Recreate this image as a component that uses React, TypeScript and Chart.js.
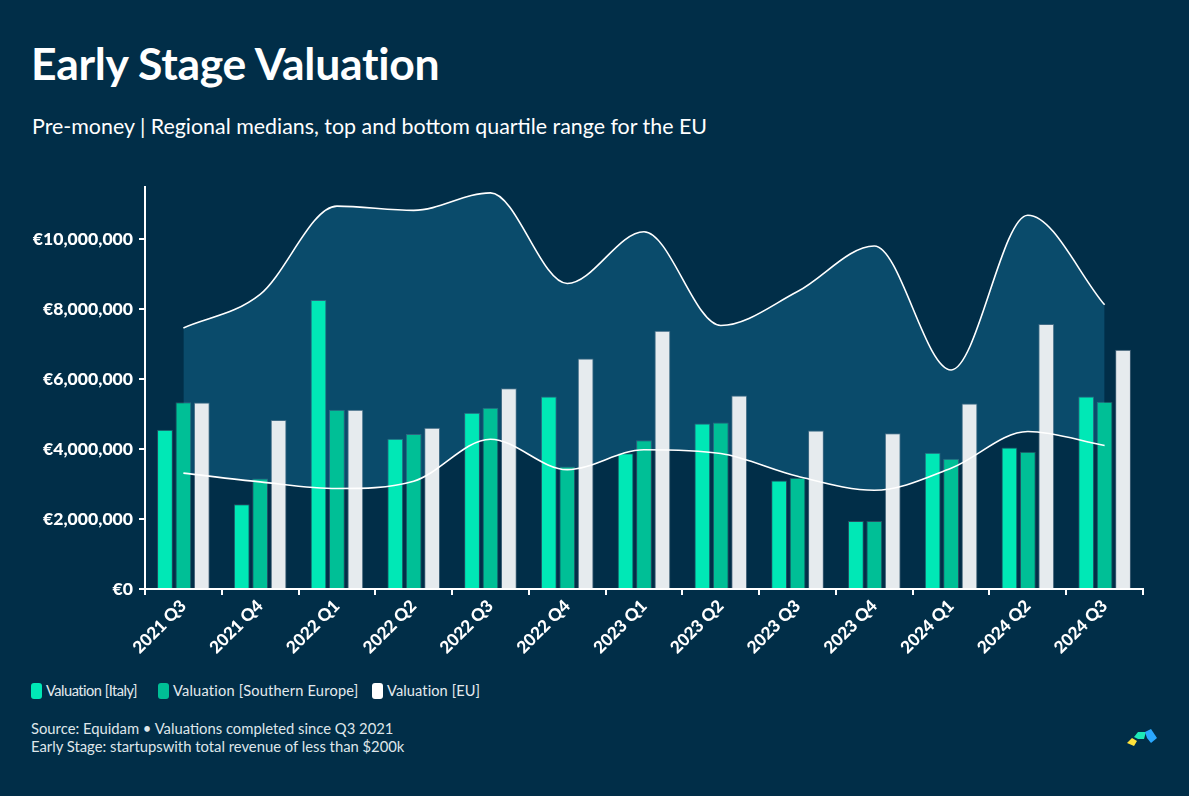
import React, { useEffect, useRef } from "react";
import { Chart, registerables } from "chart.js";

Chart.register(...registerables);

const categories = [
  "2021 Q3", "2021 Q4", "2022 Q1", "2022 Q2", "2022 Q3", "2022 Q4",
  "2023 Q1", "2023 Q2", "2023 Q3", "2023 Q4", "2024 Q1", "2024 Q2", "2024 Q3",
];
const italy = [4550000, 2420000, 8260000, 4290000, 5040000, 5500000, 3880000, 4730000, 3100000, 1940000, 3890000, 4040000, 5500000];
const southernEurope = [5340000, 3160000, 5120000, 4430000, 5180000, 3500000, 4250000, 4760000, 3180000, 1940000, 3720000, 3920000, 5350000];
const eu = [5330000, 4830000, 5120000, 4610000, 5740000, 6590000, 7380000, 5530000, 4530000, 4450000, 5300000, 7570000, 6840000];
const euTopQuartile = [7460000, 8420000, 10940000, 10820000, 11320000, 8730000, 10210000, 7530000, 8500000, 9800000, 6260000, 10680000, 8120000];
const euBottomQuartile = [3310000, 3060000, 2870000, 3080000, 4280000, 3410000, 3980000, 3870000, 3220000, 2820000, 3450000, 4500000, 4100000];
const yTickValues = [0, 2000000, 4000000, 6000000, 8000000, 10000000];
const legendLabels = ["Valuation [Italy]", "Valuation [Southern Europe]", "Valuation [EU]"];

const BG = "#012e48";
const FILL = "#0a4b6b";
const ITALY = "#00e8b6";
const SE = "#00bf96";
const EUC = "#e6ebee";
const FONT = "Lato, 'Open Sans', sans-serif";

export default function App() {
  const canvasRef = useRef<HTMLCanvasElement | null>(null);

  useEffect(() => {
    document.body.style.margin = "0";
    document.body.style.background = BG;
    const ctx = canvasRef.current!;
    let alive = true;
    const chart = new Chart(ctx, {
      type: "bar",
      data: {
        labels: categories,
        datasets: [
          {
            type: "line",
            label: "EU top quartile",
            data: euTopQuartile,
            borderColor: "#ffffff",
            borderWidth: 1.6,
            backgroundColor: FILL,
            fill: "+1",
            pointRadius: 0,
            cubicInterpolationMode: "monotone",
            order: 1,
          },
          {
            type: "line",
            label: "EU bottom quartile",
            data: euBottomQuartile,
            borderColor: "#ffffff",
            borderWidth: 1.6,
            fill: false,
            pointRadius: 0,
            cubicInterpolationMode: "monotone",
            order: 1,
          },
          {
            label: legendLabels[0],
            data: italy,
            backgroundColor: ITALY,
            borderColor: "rgba(255,255,255,0.15)",
            borderWidth: 1,
            barPercentage: 0.86,
            categoryPercentage: 0.72,
            order: 2,
          },
          {
            label: legendLabels[1],
            data: southernEurope,
            backgroundColor: SE,
            borderColor: "rgba(255,255,255,0.15)",
            borderWidth: 1,
            barPercentage: 0.86,
            categoryPercentage: 0.72,
            order: 2,
          },
          {
            label: legendLabels[2],
            data: eu,
            backgroundColor: EUC,
            borderColor: "rgba(120,140,160,0.5)",
            borderWidth: 1,
            barPercentage: 0.86,
            categoryPercentage: 0.72,
            order: 2,
          },
        ],
      } as any,
      options: {
        responsive: false,
        animation: false,
        layout: { padding: { top: 14, right: 46, left: 0, bottom: 0 } },
        plugins: {
          legend: { display: false },
          tooltip: { enabled: false },
          filler: { drawTime: "beforeDatasetsDraw" },
        } as any,
        scales: {
          x: {
            grid: { display: true, drawOnChartArea: false, color: "#ffffff", tickLength: 6, lineWidth: 2 },
            border: { display: true, color: "#ffffff", width: 2 },
            ticks: {
              color: "#ffffff",
              font: { family: FONT, size: 17, weight: "900" },
              minRotation: 45,
              maxRotation: 45,
              padding: 1,
              autoSkip: false,
            },
            afterFit: (s: any) => { s.height = 81; },
          },
          y: {
            min: 0,
            max: 11500000,
            grid: { display: true, drawOnChartArea: false, color: "#ffffff", tickLength: 6, lineWidth: 2 },
            border: { display: true, color: "#ffffff", width: 2 },
            afterBuildTicks: (s: any) => { s.ticks = yTickValues.map((v) => ({ value: v })); },
            ticks: {
              color: "#ffffff",
              font: { family: FONT, size: 17.6, weight: "900" },
              padding: 6,
              callback: (v: any) => "€" + Number(v).toLocaleString("en-US"),
            },
            afterFit: (s: any) => { s.width = 145; },
          },
        },
      } as any,
    });
    const fonts = (document as any).fonts;
    if (fonts && fonts.load) {
      Promise.all([fonts.load("900 17px Lato"), fonts.load("bold 17px Lato")]).then(() => {
        if (alive) chart.update();
      }).catch(() => {});
    }
    return () => { alive = false; chart.destroy(); };
  }, []);

  const legendColors = [ITALY, SE, "#ffffff"];
  const legendLefts = [31, 158, 372];
  const legendSpacing = [-0.5, 0.2, 0.1];

  return (
    <div style={{ position: "relative", width: 1189, height: 796, background: BG, overflow: "hidden", fontFamily: FONT }}>
      <div style={{ position: "absolute", left: 31, top: 36, fontSize: 44.5, fontWeight: 700, color: "#ffffff", lineHeight: "54px", letterSpacing: -0.3, whiteSpace: "nowrap" }}>
        Early Stage Valuation
      </div>
      <div style={{ position: "absolute", left: 32, top: 112, fontSize: 21.4, color: "#ffffff", lineHeight: "28px", whiteSpace: "nowrap" }}>
        Pre-money | Regional medians, top and bottom quartile range for the EU
      </div>
      <div style={{ position: "absolute", left: 0, top: 170, width: 1189, height: 500 }}>
        <canvas ref={canvasRef} width={1189} height={500} style={{ display: "block" }} />
      </div>
      {legendLabels.map((l, i) => (
        <div key={l} style={{ position: "absolute", left: legendLefts[i], top: 682, display: "flex", alignItems: "center", fontSize: 14.6, color: "#e4eaee", whiteSpace: "nowrap", letterSpacing: legendSpacing[i] }}>
          <span style={{ display: "inline-block", width: 11, height: 16, borderRadius: 3, background: legendColors[i], marginRight: 4 }} />
          <span style={{ lineHeight: "18px" }}>{l}</span>
        </div>
      ))}
      <div style={{ position: "absolute", left: 31, top: 719, fontSize: 14.8, color: "#dfe6ea", lineHeight: "18px", whiteSpace: "nowrap" }}>
        <div>Source: Equidam • Valuations completed since Q3 2021</div>
        <div>Early Stage: startupswith total revenue of less than $200k</div>
      </div>
      <svg style={{ position: "absolute", left: 1124, top: 726 }} width={36} height={24} viewBox="0 0 36 24">
        <path d="M3 17 L8 12 L13 15 L10 20 Z" fill="#ffe23a" />
        <path d="M10 11 L14 6 L22 6 L20 13 L14 13 Z" fill="#1de9b6" />
        <path d="M21 6 L27 3 L33 12 L27 17 L23 12 Z" fill="#2aa8ff" />
      </svg>
    </div>
  );
}
